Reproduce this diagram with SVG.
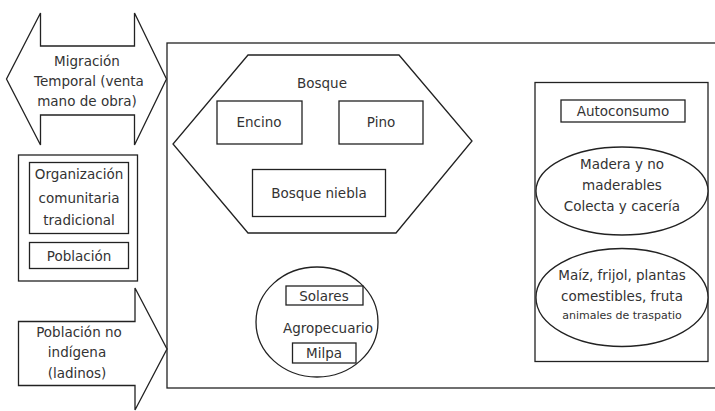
<svg xmlns="http://www.w3.org/2000/svg" width="715" height="411" viewBox="0 0 715 411">
<style>
.s{fill:#fff;stroke:#222;stroke-width:1.3}
.n{fill:none;stroke:#222;stroke-width:1.3}
text{font-family:"DejaVu Sans","Liberation Sans",sans-serif;font-size:13.5px;fill:#333;text-anchor:middle}
.sm{font-size:11px}
</style>
<rect width="715" height="411" fill="#fff"/>
<g id="region">
<rect class="n" x="167" y="43" width="560" height="345" stroke="#444"/>
</g>
<g id="migracion">
<polygon class="s" points="40.5,13 40.5,46 134.5,46 134.5,13 166.5,79 134.5,145 134.5,115 40.5,115 40.5,145 6.5,79"/>
<text x="87" y="66">Migración</text>
<text x="89" y="86">Temporal (venta</text>
<text x="87" y="106">mano de obra)</text>
</g>
<g id="organizacion">
<rect class="s" x="18.5" y="155" width="119" height="126"/>
<rect class="s" x="29.5" y="162.5" width="99" height="71"/>
<text x="79" y="179">Organización</text>
<text x="79" y="203">comunitaria</text>
<text x="79" y="225">tradicional</text>
<rect class="s" x="29.5" y="242.5" width="99" height="26"/>
<text x="79" y="261">Población</text>
</g>
<g id="poblacion-no-indigena">
<polygon class="s" points="18.5,321.5 135,321.5 135,288 167,349 135,410 135,385.5 18.5,385.5"/>
<text x="79" y="337">Población no</text>
<text x="77" y="357">indígena</text>
<text x="77" y="378">(ladinos)</text>
</g>
<g id="bosque">
<polygon class="s" points="248,55 399,55 472,141 396,233 248,233 173,144"/>
<text x="322" y="88">Bosque</text>
<g id="encino"><rect class="s" x="217" y="101" width="85" height="43"/><text x="259" y="127">Encino</text></g>
<g id="pino"><rect class="s" x="339" y="101" width="84" height="43"/><text x="381" y="127">Pino</text></g>
<g id="bosque-niebla"><rect class="s" x="252.5" y="169.5" width="133" height="47"/><text x="319" y="198">Bosque niebla</text></g>
</g>
<g id="agropecuario">
<ellipse class="s" cx="317" cy="322" rx="61" ry="55"/>
<g id="solares"><rect class="s" x="286" y="286" width="77" height="19"/><text x="324" y="301">Solares</text></g>
<text x="328" y="333">Agropecuario</text>
<g id="milpa"><rect class="s" x="292.5" y="343" width="63.5" height="20"/><text x="324" y="358">Milpa</text></g>
</g>
<g id="autoconsumo-panel">
<rect class="s" x="535" y="82.5" width="173" height="279"/>
<g id="autoconsumo"><rect class="s" x="561" y="100" width="124" height="22"/><text x="623" y="116">Autoconsumo</text></g>
<g id="madera"><ellipse class="s" cx="622" cy="191" rx="86" ry="44"/>
<text x="622" y="169">Madera y no</text>
<text x="622" y="190">maderables</text>
<text x="622" y="211">Colecta y cacería</text></g>
<g id="maiz"><ellipse class="s" cx="622" cy="297.5" rx="86" ry="49"/>
<text x="622" y="280">Maíz, frijol, plantas</text>
<text x="622" y="301">comestibles, fruta</text>
<text class="sm" x="622" y="319">animales de traspatio</text></g>
</g>
<g id="connectors"/>
</svg>
